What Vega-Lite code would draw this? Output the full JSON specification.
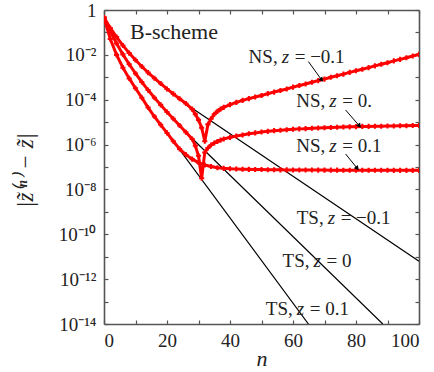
{
  "$schema": "https://vega.github.io/schema/vega-lite/v6.json",
  "autosize": "none",
  "width": 315,
  "height": 314,
  "padding": {"left": 104, "top": 10, "right": 15, "bottom": 48},
  "background": "white",
  "config": {
    "view": {"stroke": null},
    "font": "Liberation Serif",
    "axis": {
      "grid": false,
      "domainColor": "#555555",
      "domainWidth": 1.6,
      "tickColor": "#555555",
      "tickWidth": 1.2,
      "tickSize": -4,
      "labelFont": "Liberation Serif",
      "labelFontSize": 18,
      "labelColor": "#222222",
      "titleFont": "Liberation Serif",
      "titleColor": "#222222",
      "titleFontWeight": "normal"
    }
  },
  "datasets": {
    "ts": [
      {"series": "TS-0.1", "n": 0, "err": 0.457}, {"series": "TS-0.1", "n": 2, "err": 0.158}, {"series": "TS-0.1", "n": 4, "err": 0.0617}, {"series": "TS-0.1", "n": 6, "err": 0.0263}, {"series": "TS-0.1", "n": 8, "err": 0.012}, {"series": "TS-0.1", "n": 10, "err": 0.00589}, {"series": "TS-0.1", "n": 12, "err": 0.00302}, {"series": "TS-0.1", "n": 14, "err": 0.00162}, {"series": "TS-0.1", "n": 16, "err": 0.000912}, {"series": "TS-0.1", "n": 18, "err": 0.000525}, {"series": "TS-0.1", "n": 20, "err": 0.000302}, {"series": "TS-0.1", "n": 22, "err": 0.000182}, {"series": "TS-0.1", "n": 24, "err": 0.00011}, {"series": "TS-0.1", "n": 26, "err": 6.76e-5}, {"series": "TS-0.1", "n": 28, "err": 4.17e-5}, {"series": "TS-0.1", "n": 100, "err": 6.31e-12},
      {"series": "TS0", "n": 0, "err": 0.457}, {"series": "TS0", "n": 2, "err": 0.112}, {"series": "TS0", "n": 4, "err": 0.0324}, {"series": "TS0", "n": 6, "err": 0.0105}, {"series": "TS0", "n": 8, "err": 0.0038}, {"series": "TS0", "n": 10, "err": 0.00148}, {"series": "TS0", "n": 12, "err": 0.000617}, {"series": "TS0", "n": 14, "err": 0.000269}, {"series": "TS0", "n": 16, "err": 0.000123}, {"series": "TS0", "n": 18, "err": 5.89e-5}, {"series": "TS0", "n": 20, "err": 2.82e-5}, {"series": "TS0", "n": 22, "err": 1.41e-5}, {"series": "TS0", "n": 24, "err": 7.08e-6}, {"series": "TS0", "n": 26, "err": 3.55e-6}, {"series": "TS0", "n": 28, "err": 1.86e-6}, {"series": "TS0", "n": 88.5, "err": 1e-14},
      {"series": "TS0.1", "n": 0, "err": 0.457}, {"series": "TS0.1", "n": 2, "err": 0.0513}, {"series": "TS0.1", "n": 4, "err": 0.01}, {"series": "TS0.1", "n": 6, "err": 0.00269}, {"series": "TS0.1", "n": 8, "err": 0.000891}, {"series": "TS0.1", "n": 10, "err": 0.000324}, {"series": "TS0.1", "n": 12, "err": 0.000123}, {"series": "TS0.1", "n": 14, "err": 4.47e-5}, {"series": "TS0.1", "n": 16, "err": 1.78e-5}, {"series": "TS0.1", "n": 18, "err": 7.59e-6}, {"series": "TS0.1", "n": 20, "err": 3.31e-6}, {"series": "TS0.1", "n": 22, "err": 1.41e-6}, {"series": "TS0.1", "n": 64.9, "err": 1e-14}
    ],
    "ns": [
      {"series": "NS-0.1", "n": 0, "err": 0.457}, {"series": "NS-0.1", "n": 2, "err": 0.158}, {"series": "NS-0.1", "n": 4, "err": 0.0617}, {"series": "NS-0.1", "n": 6, "err": 0.0263}, {"series": "NS-0.1", "n": 8, "err": 0.012}, {"series": "NS-0.1", "n": 10, "err": 0.00589}, {"series": "NS-0.1", "n": 12, "err": 0.00302}, {"series": "NS-0.1", "n": 14, "err": 0.00162}, {"series": "NS-0.1", "n": 16, "err": 0.000912}, {"series": "NS-0.1", "n": 18, "err": 0.000525}, {"series": "NS-0.1", "n": 20, "err": 0.000302}, {"series": "NS-0.1", "n": 22, "err": 0.000182}, {"series": "NS-0.1", "n": 24, "err": 0.00011}, {"series": "NS-0.1", "n": 26, "err": 6.76e-5}, {"series": "NS-0.1", "n": 28, "err": 3.8e-5}, {"series": "NS-0.1", "n": 29, "err": 2.24e-5}, {"series": "NS-0.1", "n": 30, "err": 1.26e-5}, {"series": "NS-0.1", "n": 31, "err": 5.62e-6}, {"series": "NS-0.1", "n": 32, "err": 1.41e-6}, {"series": "NS-0.1", "n": 33, "err": 7.94e-6}, {"series": "NS-0.1", "n": 34, "err": 1.41e-5}, {"series": "NS-0.1", "n": 35, "err": 2.24e-5}, {"series": "NS-0.1", "n": 36, "err": 3.02e-5}, {"series": "NS-0.1", "n": 37, "err": 3.8e-5}, {"series": "NS-0.1", "n": 38, "err": 4.57e-5}, {"series": "NS-0.1", "n": 40, "err": 6.03e-5}, {"series": "NS-0.1", "n": 42, "err": 7.59e-5}, {"series": "NS-0.1", "n": 44, "err": 9.33e-5}, {"series": "NS-0.1", "n": 46, "err": 0.000112}, {"series": "NS-0.1", "n": 48, "err": 0.000132}, {"series": "NS-0.1", "n": 50, "err": 0.000155}, {"series": "NS-0.1", "n": 52, "err": 0.000186}, {"series": "NS-0.1", "n": 54, "err": 0.000219}, {"series": "NS-0.1", "n": 56, "err": 0.000257}, {"series": "NS-0.1", "n": 58, "err": 0.000302}, {"series": "NS-0.1", "n": 60, "err": 0.000363}, {"series": "NS-0.1", "n": 62, "err": 0.000427}, {"series": "NS-0.1", "n": 64, "err": 0.000501}, {"series": "NS-0.1", "n": 66, "err": 0.000603}, {"series": "NS-0.1", "n": 68, "err": 0.000708}, {"series": "NS-0.1", "n": 70, "err": 0.000832}, {"series": "NS-0.1", "n": 72, "err": 0.001}, {"series": "NS-0.1", "n": 74, "err": 0.00117}, {"series": "NS-0.1", "n": 76, "err": 0.00138}, {"series": "NS-0.1", "n": 78, "err": 0.00166}, {"series": "NS-0.1", "n": 80, "err": 0.00195}, {"series": "NS-0.1", "n": 82, "err": 0.00229}, {"series": "NS-0.1", "n": 84, "err": 0.00269}, {"series": "NS-0.1", "n": 86, "err": 0.00324}, {"series": "NS-0.1", "n": 88, "err": 0.0038}, {"series": "NS-0.1", "n": 90, "err": 0.00447}, {"series": "NS-0.1", "n": 92, "err": 0.00537}, {"series": "NS-0.1", "n": 94, "err": 0.00631}, {"series": "NS-0.1", "n": 96, "err": 0.00741}, {"series": "NS-0.1", "n": 98, "err": 0.00891}, {"series": "NS-0.1", "n": 100, "err": 0.0105},
      {"series": "NS0", "n": 0, "err": 0.457}, {"series": "NS0", "n": 2, "err": 0.112}, {"series": "NS0", "n": 4, "err": 0.0324}, {"series": "NS0", "n": 6, "err": 0.0105}, {"series": "NS0", "n": 8, "err": 0.0038}, {"series": "NS0", "n": 10, "err": 0.00148}, {"series": "NS0", "n": 12, "err": 0.000617}, {"series": "NS0", "n": 14, "err": 0.000269}, {"series": "NS0", "n": 16, "err": 0.000123}, {"series": "NS0", "n": 18, "err": 5.89e-5}, {"series": "NS0", "n": 20, "err": 2.82e-5}, {"series": "NS0", "n": 22, "err": 1.41e-5}, {"series": "NS0", "n": 24, "err": 7.08e-6}, {"series": "NS0", "n": 26, "err": 3.55e-6}, {"series": "NS0", "n": 28, "err": 1.78e-6}, {"series": "NS0", "n": 29, "err": 8.91e-7}, {"series": "NS0", "n": 30, "err": 3.16e-7}, {"series": "NS0", "n": 31, "err": 3.16e-8}, {"series": "NS0", "n": 32, "err": 4.47e-7}, {"series": "NS0", "n": 33, "err": 7.08e-7}, {"series": "NS0", "n": 34, "err": 9.55e-7}, {"series": "NS0", "n": 35, "err": 1.17e-6}, {"series": "NS0", "n": 36, "err": 1.38e-6}, {"series": "NS0", "n": 37, "err": 1.58e-6}, {"series": "NS0", "n": 38, "err": 1.78e-6}, {"series": "NS0", "n": 40, "err": 2.09e-6}, {"series": "NS0", "n": 42, "err": 2.4e-6}, {"series": "NS0", "n": 44, "err": 2.69e-6}, {"series": "NS0", "n": 46, "err": 3.02e-6}, {"series": "NS0", "n": 48, "err": 3.31e-6}, {"series": "NS0", "n": 50, "err": 3.63e-6}, {"series": "NS0", "n": 52, "err": 3.89e-6}, {"series": "NS0", "n": 54, "err": 4.17e-6}, {"series": "NS0", "n": 56, "err": 4.37e-6}, {"series": "NS0", "n": 58, "err": 4.57e-6}, {"series": "NS0", "n": 60, "err": 4.79e-6}, {"series": "NS0", "n": 62, "err": 5.01e-6}, {"series": "NS0", "n": 64, "err": 5.13e-6}, {"series": "NS0", "n": 66, "err": 5.37e-6}, {"series": "NS0", "n": 68, "err": 5.5e-6}, {"series": "NS0", "n": 70, "err": 5.62e-6}, {"series": "NS0", "n": 72, "err": 5.75e-6}, {"series": "NS0", "n": 74, "err": 5.89e-6}, {"series": "NS0", "n": 76, "err": 6.03e-6}, {"series": "NS0", "n": 78, "err": 6.17e-6}, {"series": "NS0", "n": 80, "err": 6.31e-6}, {"series": "NS0", "n": 82, "err": 6.46e-6}, {"series": "NS0", "n": 84, "err": 6.46e-6}, {"series": "NS0", "n": 86, "err": 6.61e-6}, {"series": "NS0", "n": 88, "err": 6.61e-6}, {"series": "NS0", "n": 90, "err": 6.76e-6}, {"series": "NS0", "n": 92, "err": 6.76e-6}, {"series": "NS0", "n": 94, "err": 6.92e-6}, {"series": "NS0", "n": 96, "err": 6.92e-6}, {"series": "NS0", "n": 98, "err": 7.08e-6}, {"series": "NS0", "n": 100, "err": 7.08e-6},
      {"series": "NS0.1", "n": 0, "err": 0.457}, {"series": "NS0.1", "n": 2, "err": 0.0513}, {"series": "NS0.1", "n": 4, "err": 0.01}, {"series": "NS0.1", "n": 6, "err": 0.00269}, {"series": "NS0.1", "n": 8, "err": 0.000891}, {"series": "NS0.1", "n": 10, "err": 0.000324}, {"series": "NS0.1", "n": 12, "err": 0.000123}, {"series": "NS0.1", "n": 14, "err": 4.47e-5}, {"series": "NS0.1", "n": 16, "err": 1.78e-5}, {"series": "NS0.1", "n": 18, "err": 7.59e-6}, {"series": "NS0.1", "n": 20, "err": 3.31e-6}, {"series": "NS0.1", "n": 22, "err": 1.41e-6}, {"series": "NS0.1", "n": 24, "err": 6.31e-7}, {"series": "NS0.1", "n": 26, "err": 3.55e-7}, {"series": "NS0.1", "n": 28, "err": 2.24e-7}, {"series": "NS0.1", "n": 30, "err": 1.58e-7}, {"series": "NS0.1", "n": 32, "err": 1.23e-7}, {"series": "NS0.1", "n": 34, "err": 1.05e-7}, {"series": "NS0.1", "n": 36, "err": 9.33e-8}, {"series": "NS0.1", "n": 38, "err": 8.71e-8}, {"series": "NS0.1", "n": 40, "err": 8.32e-8}, {"series": "NS0.1", "n": 42, "err": 8.13e-8}, {"series": "NS0.1", "n": 44, "err": 7.94e-8}, {"series": "NS0.1", "n": 46, "err": 7.85e-8}, {"series": "NS0.1", "n": 48, "err": 7.76e-8}, {"series": "NS0.1", "n": 50, "err": 7.68e-8}, {"series": "NS0.1", "n": 52, "err": 7.59e-8}, {"series": "NS0.1", "n": 54, "err": 7.5e-8}, {"series": "NS0.1", "n": 56, "err": 7.45e-8}, {"series": "NS0.1", "n": 58, "err": 7.41e-8}, {"series": "NS0.1", "n": 60, "err": 7.38e-8}, {"series": "NS0.1", "n": 62, "err": 7.35e-8}, {"series": "NS0.1", "n": 64, "err": 7.33e-8}, {"series": "NS0.1", "n": 66, "err": 7.3e-8}, {"series": "NS0.1", "n": 68, "err": 7.28e-8}, {"series": "NS0.1", "n": 70, "err": 7.26e-8}, {"series": "NS0.1", "n": 72, "err": 7.24e-8}, {"series": "NS0.1", "n": 74, "err": 7.22e-8}, {"series": "NS0.1", "n": 76, "err": 7.2e-8}, {"series": "NS0.1", "n": 78, "err": 7.19e-8}, {"series": "NS0.1", "n": 80, "err": 7.17e-8}, {"series": "NS0.1", "n": 82, "err": 7.16e-8}, {"series": "NS0.1", "n": 84, "err": 7.14e-8}, {"series": "NS0.1", "n": 86, "err": 7.13e-8}, {"series": "NS0.1", "n": 88, "err": 7.12e-8}, {"series": "NS0.1", "n": 90, "err": 7.11e-8}, {"series": "NS0.1", "n": 92, "err": 7.1e-8}, {"series": "NS0.1", "n": 94, "err": 7.09e-8}, {"series": "NS0.1", "n": 96, "err": 7.09e-8}, {"series": "NS0.1", "n": 98, "err": 7.08e-8}, {"series": "NS0.1", "n": 100, "err": 7.08e-8}
    ],
    "arrows": [
      {"n1": 64.9, "e1": 0.00501, "n2": 69.1, "e2": 0.000759},
      {"n1": 76.7, "e1": 3.47e-5, "n2": 81.1, "e2": 6.76e-6},
      {"n1": 76.7, "e1": 3.8e-7, "n2": 80.4, "e2": 8.71e-8}
    ],
    "labels": [
      {"n": 56.4, "err": 0.00794, "head": "NS,", "tail": "= −0.1"},
      {"n": 71.5, "err": 8.71e-5, "head": "NS,", "tail": "= 0."},
      {"n": 71.5, "err": 8.71e-7, "head": "NS,", "tail": "= 0.1"},
      {"n": 71.0, "err": 5.37e-10, "head": "TS,", "tail": "= −0.1"},
      {"n": 66.5, "err": 6.46e-12, "head": "TS,", "tail": "= 0"},
      {"n": 61.2, "err": 4.68e-14, "head": "TS,", "tail": "= 0.1"}
    ],
    "title": [
      {"n": 8.25, "err": 0.105, "text": "B-scheme"}
    ]
  },
  "layer": [
    {
      "data": {"name": "ts"},
      "mark": {"type": "line", "color": "black", "strokeWidth": 1.2, "clip": true},
      "encoding": {
        "x": {"field": "n", "type": "quantitative", "scale": {"domain": [0, 100], "nice": false},
          "axis": {"orient": "bottom", "values": [0,10,20,30,40,50,60,70,80,90,100], "labelExpr": "datum.value % 20 == 0 ? datum.label : ''", "labelPadding": 11, "labelFont": "Liberation Serif", "labelFontSize": 19, "title": "n", "titleFont": "Liberation Serif", "titleFontStyle": "italic", "titleFontSize": 22, "titleBaseline": "alphabetic", "titleY": 41}},
        "y": {"field": "err", "type": "quantitative", "scale": {"type": "log", "domain": [1e-14, 1], "nice": false},
          "axis": {"orient": "left", "values": [1,1e-1,1e-2,1e-3,1e-4,1e-5,1e-6,1e-7,1e-8,1e-9,1e-10,1e-11,1e-12,1e-13,1e-14],
            "labelExpr": "round(log(datum.value)/LN10) % 2 != 0 ? '' : (datum.value >= 0.5 ? '1' : '10⁻' + replace(replace(replace(replace(replace(replace(toString(-round(log(datum.value)/LN10)), '1', '¹'), '0', '⁰'), '2', '²'), '4', '⁴'), '6', '⁶'), '8', '⁸'))",
            "labelPadding": 12, "labelFont": "Liberation Serif", "labelFontSize": 19,
            "title": "|z̃⁽ⁿ⁾ − z̃|", "titleFont": "Liberation Serif", "titleFontStyle": "italic", "titleFontSize": 23, "titleX": -79, "titleY": 160, "titleAngle": -90, "titleBaseline": "middle", "titleAlign": "center"}},
        "detail": {"field": "series"}
      }
    },
    {
      "data": {"name": "ns"},
      "mark": {"type": "line", "color": "#ff0000", "strokeWidth": 3, "clip": true,
        "point": {"shape": "cross", "size": 26, "filled": true, "color": "#ff0000"}},
      "encoding": {
        "x": {"field": "n", "type": "quantitative",
          "axis": {"orient": "top", "values": [0,10,20,30,40,50,60,70,80,90,100], "labels": false, "title": null}},
        "y": {"field": "err", "type": "quantitative",
          "axis": {"orient": "right", "values": [1,1e-1,1e-2,1e-3,1e-4,1e-5,1e-6,1e-7,1e-8,1e-9,1e-10,1e-11,1e-12,1e-13,1e-14], "labels": false, "title": null}},
        "detail": {"field": "series"}
      }
    },
    {
      "data": {"name": "arrows"},
      "mark": {"type": "rule", "color": "black", "strokeWidth": 1},
      "encoding": {
        "x": {"field": "n1", "type": "quantitative", "axis": null},
        "y": {"field": "e1", "type": "quantitative", "axis": null},
        "x2": {"field": "n2"},
        "y2": {"field": "e2"}
      }
    },
    {
      "data": {"name": "arrows"},
      "mark": {"type": "point", "shape": "triangle-up", "filled": true, "color": "black", "size": 28, "angle": 141, "opacity": 1},
      "encoding": {
        "x": {"field": "n2", "type": "quantitative", "axis": null},
        "y": {"field": "e2", "type": "quantitative", "axis": null}
      }
    },
    {
      "data": {"name": "labels"},
      "mark": {"type": "text", "align": "right", "baseline": "middle", "dx": -4, "fontSize": 19, "color": "#222222", "font": "Liberation Serif"},
      "encoding": {
        "x": {"field": "n", "type": "quantitative", "axis": null},
        "y": {"field": "err", "type": "quantitative", "axis": null},
        "text": {"field": "head"}
      }
    },
    {
      "data": {"name": "labels"},
      "mark": {"type": "text", "align": "left", "baseline": "middle", "dx": 0, "fontSize": 19, "fontStyle": "italic", "color": "#222222", "font": "Liberation Serif"},
      "encoding": {
        "x": {"field": "n", "type": "quantitative", "axis": null},
        "y": {"field": "err", "type": "quantitative", "axis": null},
        "text": {"value": "z"}
      }
    },
    {
      "data": {"name": "labels"},
      "mark": {"type": "text", "align": "left", "baseline": "middle", "dx": 13, "fontSize": 19, "color": "#222222", "font": "Liberation Serif"},
      "encoding": {
        "x": {"field": "n", "type": "quantitative", "axis": null},
        "y": {"field": "err", "type": "quantitative", "axis": null},
        "text": {"field": "tail"}
      }
    },
    {
      "data": {"name": "title"},
      "mark": {"type": "text", "align": "left", "baseline": "middle", "fontSize": 22, "color": "#222222", "font": "Liberation Serif"},
      "encoding": {
        "x": {"field": "n", "type": "quantitative", "axis": null},
        "y": {"field": "err", "type": "quantitative", "axis": null},
        "text": {"field": "text"}
      }
    }
  ],
  "resolve": {"axis": {"x": "independent", "y": "independent"}}
}
